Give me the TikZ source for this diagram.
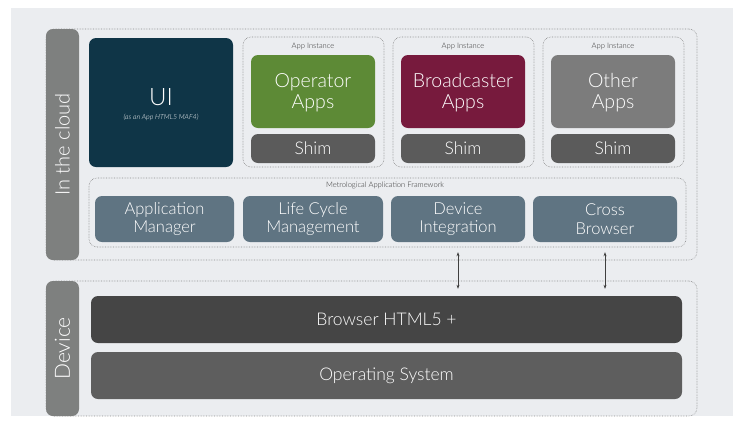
\documentclass[tikz,border=0pt]{standalone}
\usepackage{fontspec}
\setmainfont{Lato}[UprightFont=* Light, ItalicFont=* Light Italic]
\usetikzlibrary{arrows.meta}
\definecolor{bgc}{HTML}{EBEDF0}
\definecolor{barc}{HTML}{7E807F}
\definecolor{uic}{HTML}{0F3547}
\definecolor{opc}{HTML}{5D8A36}
\definecolor{brc}{HTML}{771A3D}
\definecolor{otc}{HTML}{7C7C7C}
\definecolor{shimc}{HTML}{5B5B5B}
\definecolor{fwc}{HTML}{5F7482}
\definecolor{browc}{HTML}{454545}
\definecolor{osc}{HTML}{5E5E5E}
\definecolor{dotc}{HTML}{8A8A8A}
\tikzset{
  solidbox/.style={draw=none, rounded corners=7pt, text=white, align=center, inner sep=0pt},
  dotbox/.style={draw=dotc, densely dotted, line width=0.6pt, rounded corners=8pt, inner sep=0pt},
  barbox/.style={fill=barc, rounded corners=7pt, text=white, inner sep=0pt, rotate=90},
  smalllab/.style={font=\fontsize{7.6}{8}\selectfont, text=black!80, inner sep=0pt},
  biglab/.style={font=\fontsize{19.5}{21}\selectfont},
  midlab/.style={font=\fontsize{17.5}{19}\selectfont},
  fwlab/.style={font=\fontsize{16.5}{18.5}\selectfont},
  twoway/.style={<->, >={Stealth[length=4pt,width=3pt]}, draw=black!75, line width=0.6pt}
}
\begin{document}
\begin{tikzpicture}[x=1pt,y=-1pt]
\useasboundingbox (0,0) rectangle (733,421);
\fill[white] (0,0) rectangle (733,421);
\fill[bgc] (11,8) rectangle (733,416);
% cloud region
\node[dotbox, minimum width=651pt, minimum height=231pt] (cloud) at (371.5,144.5) {};
\node[barbox, minimum width=231pt, minimum height=33pt, font=\fontsize{20}{22}\selectfont] (cloudlab) at (62.5,144.5) {In the cloud};
% UI
\node[solidbox, fill=uic, minimum width=144pt, minimum height=129pt] (ui) at (161,102.5) {};
\node[text=white, font=\fontsize{24}{26}\selectfont, inner sep=0pt] (uit) at (161,97) {UI};
\node[text=white, font=\itshape\fontsize{7}{8}\selectfont, inner sep=0pt] (uis) at (161,117) {(as an App HTML5 MAF4)};
% app instances
\node[dotbox, minimum width=141pt, minimum height=130pt] (ai1) at (313.5,102) {};
\node[dotbox, minimum width=141pt, minimum height=130pt] (ai2) at (463.5,102) {};
\node[dotbox, minimum width=141pt, minimum height=130pt] (ai3) at (613.5,102) {};
\node[smalllab] (ai1l) at (313,46) {App Instance};
\node[smalllab] (ai2l) at (463,46) {App Instance};
\node[smalllab] (ai3l) at (613,46) {App Instance};
\node[solidbox, fill=opc, minimum width=124pt, minimum height=73pt] (op) at (313,91.5) {};
\node[solidbox, fill=brc, minimum width=124pt, minimum height=73pt] (br) at (463,91.5) {};
\node[solidbox, fill=otc, minimum width=124pt, minimum height=73pt] (ot) at (613,91.5) {};
\node[text=white, align=center, inner sep=0pt, biglab] (opt) at (313,93) {Operator\\Apps};
\node[text=white, align=center, inner sep=0pt, biglab] (brt) at (463,93) {Broadcaster\\Apps};
\node[text=white, align=center, inner sep=0pt, biglab] (ott) at (613,93) {Other\\Apps};
\node[solidbox, fill=shimc, minimum width=124pt, minimum height=29pt, midlab] (sh1) at (313,148.5) {Shim};
\node[solidbox, fill=shimc, minimum width=124pt, minimum height=29pt, midlab] (sh2) at (463,148.5) {Shim};
\node[solidbox, fill=shimc, minimum width=124pt, minimum height=29pt, midlab] (sh3) at (613,148.5) {Shim};
% framework
\node[dotbox, minimum width=597pt, minimum height=69pt] (fw) at (387.5,212.5) {};
\node[smalllab] (fwl) at (385,185) {Metrological Application Framework};
\node[solidbox, fill=fwc, minimum width=139pt, minimum height=46pt, fwlab] (am) at (164.5,219) {Application\\Manager};
\node[solidbox, fill=fwc, minimum width=140pt, minimum height=46pt, fwlab] (lc) at (313,219) {Life Cycle\\Management};
\node[solidbox, fill=fwc, minimum width=134pt, minimum height=46pt, fwlab] (di) at (458,219) {Device\\Integration};
\node[solidbox, fill=fwc, minimum width=144pt, minimum height=46pt, fwlab] (cb) at (605,219) {Cross\\Browser};
% device region
\node[dotbox, minimum width=651pt, minimum height=135pt] (dev) at (371.5,348.5) {};
\node[barbox, minimum width=135pt, minimum height=33pt, font=\fontsize{21}{23}\selectfont] (devlab) at (62.5,348.5) {Device};
\node[solidbox, fill=browc, minimum width=591pt, minimum height=47pt, font=\fontsize{17.5}{19}\selectfont] (brow) at (386.5,319.5) {Browser HTML5 +};
\node[solidbox, fill=osc, minimum width=591pt, minimum height=47pt, font=\fontsize{17.5}{19}\selectfont] (os) at (386.5,375.5) {Operating System};
% arrows
\draw[twoway, shorten <=10pt, shorten >=7pt] (di.south) -- (di.south |- brow.north);
\draw[twoway, shorten <=10pt, shorten >=7pt] (cb.south) -- (cb.south |- brow.north);
\end{tikzpicture}
\end{document}
